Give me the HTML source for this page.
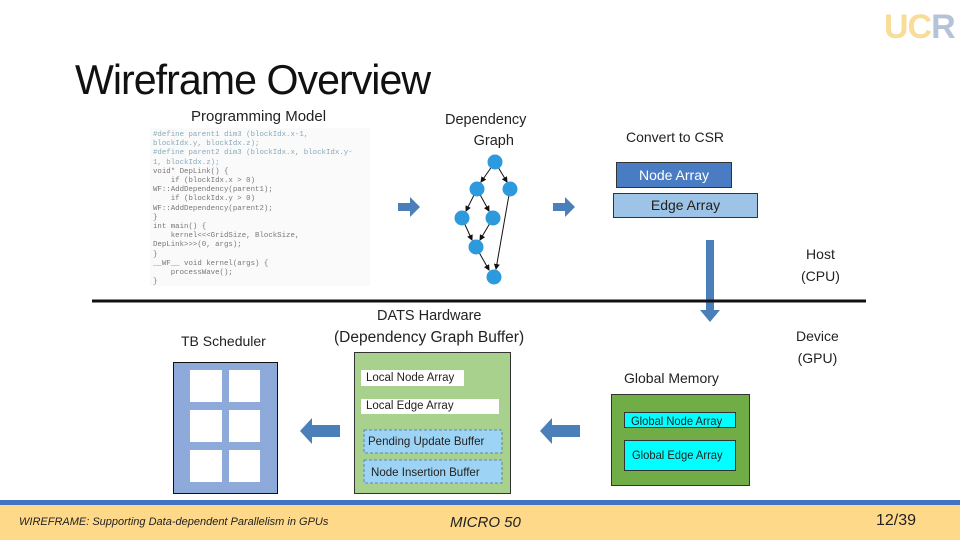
<!DOCTYPE html>
<html><head><meta charset="utf-8"><style>
body{margin:0;width:960px;height:540px;overflow:hidden;background:#fff;position:relative;font-family:"Liberation Sans",sans-serif}
.a{position:absolute}
.t{position:absolute;color:#222;font-size:14px;white-space:nowrap}
.code{position:absolute;left:150px;top:128px;width:220px;height:158px;background:#fafafa;font-family:"Liberation Mono",monospace;font-size:7.4px;line-height:9.2px;color:#777;padding:3px 0 0 3px;box-sizing:border-box;white-space:pre}
.code b{font-weight:normal;color:#8ab}
</style></head><body>
<div class="t" style="left:75px;top:56px;font-size:42px;color:#111;letter-spacing:-1px;transform:scaleX(0.98);transform-origin:left">Wireframe Overview</div>
<div class="a" style="left:884px;top:8px;font-size:34px;font-weight:bold;letter-spacing:-1px;color:#f8dc98">UC<span style="color:#b5c3d8">R</span></div>

<div class="t" style="left:191px;top:108px;font-size:15px">Programming Model</div>
<div class="code"><b>#define parent1 dim3 (blockIdx.x-1,
blockIdx.y, blockIdx.z);
#define parent2 dim3 (blockIdx.x, blockIdx.y-
1, blockIdx.z);</b>
void* DepLink() {
    if (blockIdx.x &gt; 0)
WF::AddDependency(parent1);
    if (blockIdx.y &gt; 0)
WF::AddDependency(parent2);
}
int main() {
    kernel&lt;&lt;&lt;GridSize, BlockSize,
DepLink&gt;&gt;&gt;(0, args);
}
__WF__ void kernel(args) {
    processWave();
}</div>

<div class="t" style="left:445px;top:110px;font-size:14.5px;text-align:center;line-height:21px">Dependency<br>&nbsp;&nbsp;&nbsp;&nbsp;Graph</div>
<div class="t" style="left:626px;top:129px">Convert to CSR</div>
<div class="a" style="left:616px;top:162px;width:114px;height:24px;background:#4a7cc4;border:1px solid #333;color:#fff;font-size:14px;text-align:center;line-height:24px">Node Array</div>
<div class="a" style="left:613px;top:193px;width:143px;height:23px;background:#9dc3e6;border:1px solid #333;color:#222;font-size:14px;text-align:center;line-height:23px">Edge Array</div>

<svg class="a" style="left:0;top:0" width="960" height="540">
<defs><marker id="m" markerWidth="6" markerHeight="6" refX="5" refY="3" orient="auto"><path d="M0,0L6,3L0,6z" fill="#111"/></marker></defs>
<g stroke="#111" stroke-width="1" marker-end="url(#m)">
<line x1="495" y1="162" x2="481" y2="182"/><line x1="495" y1="162" x2="507" y2="182"/>
<line x1="477" y1="189" x2="466" y2="211"/><line x1="477" y1="189" x2="489" y2="211"/>
<line x1="462" y1="218" x2="472" y2="240"/><line x1="493" y1="218" x2="480" y2="240"/>
<line x1="476" y1="247" x2="489" y2="270"/><line x1="510" y1="189" x2="496" y2="269"/>
</g>
<g fill="#2e9ade">
<circle cx="495" cy="162" r="7.5"/><circle cx="477" cy="189" r="7.5"/><circle cx="510" cy="189" r="7.5"/>
<circle cx="462" cy="218" r="7.5"/><circle cx="493" cy="218" r="7.5"/><circle cx="476" cy="247" r="7.5"/><circle cx="494" cy="277" r="7.5"/>
</g>
<g fill="#4a7fba">
<path d="M398,203h12v-6l10,10l-10,10v-6h-12z"/>
<path d="M553,203h12v-6l10,10l-10,10v-6h-12z"/>
<path d="M706,240h8v70h6l-10,12l-10,-12h6z"/>
<path d="M340,425h-28v-7l-12,13l12,13v-7h28z"/>
<path d="M580,425h-28v-7l-12,13l12,13v-7h28z"/>
</g>
<line x1="92" y1="301" x2="866" y2="301" stroke="#111" stroke-width="3"/>
<rect x="173.5" y="362.5" width="104" height="131" fill="#8eaadb" stroke="#111"/>
<g fill="#fff"><rect x="190" y="370" width="32" height="32"/><rect x="229" y="370" width="31" height="32"/>
<rect x="190" y="410" width="32" height="32"/><rect x="229" y="410" width="31" height="32"/>
<rect x="190" y="450" width="32" height="32"/><rect x="229" y="450" width="31" height="32"/></g>
<rect x="354.5" y="352.5" width="156" height="141" fill="#a9d18e" stroke="#333"/>
<rect x="361" y="370" width="103" height="16" fill="#fff"/>
<rect x="361" y="399" width="138" height="15" fill="#fff"/>
<rect x="364" y="430" width="138" height="23" fill="#9dd3f5" stroke="#5a8aa0" stroke-dasharray="3,2"/>
<rect x="364" y="460" width="138" height="23" fill="#9dd3f5" stroke="#5a8aa0" stroke-dasharray="3,2"/>
<rect x="611.5" y="394.5" width="138" height="91" fill="#70ad47" stroke="#333"/>
<rect x="624.5" y="412.5" width="111" height="15" fill="#00ffff" stroke="#333"/>
<rect x="624.5" y="440.5" width="111" height="30" fill="#00ffff" stroke="#333"/>
<rect x="0" y="500" width="960" height="5" fill="#4472c4"/>
<rect x="0" y="505" width="960" height="35" fill="#ffd98a"/>
</svg>

<div class="t" style="left:801px;top:243px;text-align:center;line-height:22px">Host<br>(CPU)</div>
<div class="t" style="left:796px;top:325px;text-align:center;line-height:22px">Device<br>(GPU)</div>
<div class="t" style="left:377px;top:308px;font-size:14.5px">DATS Hardware</div>
<div class="t" style="left:334px;top:329px;font-size:15.5px">(Dependency Graph Buffer)</div>
<div class="t" style="left:181px;top:333px">TB Scheduler</div>
<div class="t" style="left:366px;top:372px;font-size:11.5px">Local Node Array</div>
<div class="t" style="left:366px;top:400px;font-size:11.5px">Local Edge Array</div>
<div class="t" style="left:368px;top:434px;font-size:12px;transform:scaleX(0.96);transform-origin:left">Pending Update Buffer</div>
<div class="t" style="left:371px;top:465px;font-size:12px;transform:scaleX(0.96);transform-origin:left">Node Insertion Buffer</div>
<div class="t" style="left:624px;top:370px">Global Memory</div>
<div class="t" style="left:631px;top:414px;font-size:12px;transform:scaleX(0.93);transform-origin:left">Global Node Array</div>
<div class="t" style="left:632px;top:448px;font-size:12px;transform:scaleX(0.93);transform-origin:left">Global Edge Array</div>
<div class="t" style="left:19px;top:516px;font-size:11px;font-style:italic">WIREFRAME: Supporting Data-dependent Parallelism in GPUs</div>
<div class="t" style="left:450px;top:514px;font-size:15px;font-style:italic">MICRO 50</div>
<div class="t" style="left:876px;top:512px;font-size:16px">12/39</div>
</body></html>
